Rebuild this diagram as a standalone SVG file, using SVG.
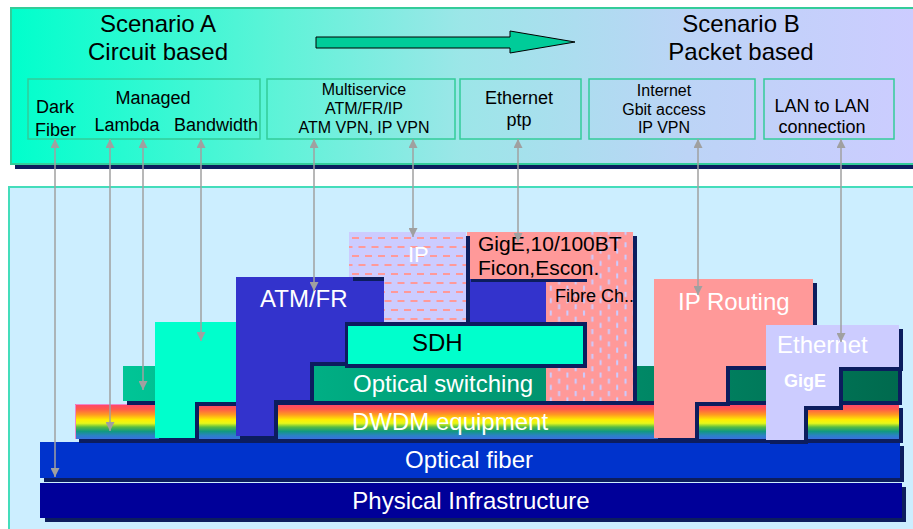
<svg xmlns="http://www.w3.org/2000/svg" width="913" height="529" viewBox="0 0 913 529">
<defs>
<linearGradient id="gTop" gradientUnits="userSpaceOnUse" x1="11" y1="0" x2="913" y2="0">
<stop offset="0" stop-color="#00ffcc"/><stop offset="0.3" stop-color="#5ff3d8"/><stop offset="0.5" stop-color="#9ce6e8"/><stop offset="0.75" stop-color="#bcd4f6"/><stop offset="1" stop-color="#ccccff"/>
</linearGradient>
<linearGradient id="gRain" x1="0" y1="0" x2="0" y2="1">
<stop offset="0" stop-color="#ff4470"/><stop offset="0.15" stop-color="#ff5a4a"/><stop offset="0.3" stop-color="#ff9922"/><stop offset="0.45" stop-color="#ffee00"/><stop offset="0.55" stop-color="#e6f71a"/><stop offset="0.66" stop-color="#55bb44"/><stop offset="0.78" stop-color="#119980"/><stop offset="0.9" stop-color="#2a82c4"/><stop offset="1" stop-color="#3a6fe0"/>
</linearGradient>
<linearGradient id="gOpt" gradientUnits="userSpaceOnUse" x1="123" y1="0" x2="898" y2="0">
<stop offset="0" stop-color="#00c596"/><stop offset="1" stop-color="#006a4e"/>
</linearGradient>
<pattern id="pIP" width="13" height="18" patternUnits="userSpaceOnUse">
<rect width="13" height="18" fill="#ccccff"/><rect x="1" y="3" width="7" height="2" fill="#ff9999"/><rect x="7.5" y="12" width="7" height="2" fill="#ff9999"/><rect x="-5.5" y="12" width="7" height="2" fill="#ff9999"/>
</pattern>
<pattern id="pFib" width="16.6" height="12.4" patternUnits="userSpaceOnUse">
<rect width="16.6" height="12.4" fill="#ff9999"/><rect x="2" y="0.5" width="2" height="5" fill="#ccccff"/><rect x="10.3" y="6.7" width="2" height="5" fill="#ccccff"/>
</pattern>
<marker id="ah" markerUnits="userSpaceOnUse" markerWidth="9" markerHeight="9" refX="9" refY="4.5" orient="auto-start-reverse">
<path d="M0,0 L9,4.5 L0,9 z" fill="#a0a0a0"/>
</marker>
<style>
text{font-family:"Liberation Sans",Arial,sans-serif;}
.sh{fill:#0c1d5e;}
.box{fill:none;stroke:#33cc99;stroke-width:1.5;}
.s24{font-size:24px;}
.s18{font-size:18px;}
.s16{font-size:16px;}
.c{text-anchor:middle;}
.w{fill:#ffffff;}
.k{fill:#000000;}
.con{stroke:#a0a0a0;stroke-width:1.5;fill:none;marker-start:url(#ah);marker-end:url(#ah);}
</style>
</defs>
<rect width="913" height="529" fill="#ffffff"/>

<g id="top-panel">
<rect class="sh" x="15" y="12" width="910" height="157"/>
<rect x="11" y="8" width="910" height="156" fill="url(#gTop)" stroke="#33cc99" stroke-width="2"/>
<text class="s24 c k" x="158" y="32">Scenario A</text>
<text class="s24 c k" x="158" y="60">Circuit based</text>
<text class="s24 c k" x="741" y="32">Scenario B</text>
<text class="s24 c k" x="741" y="60">Packet based</text>
<polygon points="316,37 510,37 510,31 575,42 510,53 510,48 316,48" fill="#00cc99" stroke="#000" stroke-width="1"/>
</g>

<g id="svc-circuit">
<rect class="box" x="28" y="79" width="232" height="60"/>
<text class="s18 k" x="36" y="113">Dark</text>
<text class="s18 k" x="35" y="136">Fiber</text>
<text class="s18 c k" x="153" y="104">Managed</text>
<text class="s18 c k" x="127" y="131">Lambda</text>
<text class="s18 c k" x="216" y="131">Bandwidth</text>
</g>
<g id="svc-multiservice">
<rect class="box" x="267" y="79" width="188" height="60"/>
<text class="s16 c k" x="364" y="95">Multiservice</text>
<text class="s16 c k" x="364" y="114">ATM/FR/IP</text>
<text class="s16 c k" x="364" y="133">ATM VPN, IP VPN</text>
</g>
<g id="svc-ethernet">
<rect class="box" x="460" y="79" width="121" height="60"/>
<text class="s18 c k" x="519" y="104">Ethernet</text>
<text class="s18 c k" x="519" y="126">ptp</text>
</g>
<g id="svc-internet">
<rect class="box" x="589" y="79" width="166" height="60"/>
<text class="s16 c k" x="664" y="96">Internet</text>
<text class="s16 c k" x="664" y="115">Gbit access</text>
<text class="s16 c k" x="664" y="133">IP VPN</text>
</g>
<g id="svc-lan">
<rect class="box" x="764" y="79" width="130" height="60"/>
<text class="s18 c k" x="822" y="112">LAN to LAN</text>
<text class="s18 c k" x="822" y="133">connection</text>
</g>

<g id="lower-panel">
<rect x="9" y="187" width="915" height="360" fill="#cceeff" stroke="#44ddbb" stroke-width="2"/>
</g>

<g id="physical">
<rect class="sh" x="45" y="487" width="861" height="35"/>
<rect x="40" y="483" width="862" height="35" fill="#000099"/>
<text class="s24 c w" x="471" y="509">Physical Infrastructure</text>
</g>
<g id="fiber">
<rect class="sh" x="44" y="446" width="860" height="36"/>
<rect x="40" y="442" width="860" height="36" fill="#0033cc"/>
<text class="s24 c w" x="469" y="468">Optical fiber</text>
</g>
<g id="dwdm">
<rect class="sh" x="79" y="408" width="824" height="35"/>
<rect x="75" y="404" width="824" height="35" fill="url(#gRain)"/>
<polyline points="75.5,439 75.5,404.5 160,404.5" fill="none" stroke="#ee88cc" stroke-width="1"/>
<text class="s24 w" x="352" y="430">DWDM equipment</text>
</g>
<g id="optical-switching">
<rect class="sh" x="127" y="370" width="775" height="35"/>
<rect x="123" y="366" width="775" height="35" fill="url(#gOpt)"/>
<text class="s24 w" x="353" y="392">Optical switching</text>
</g>
<g id="bandwidth-col">
<polygon class="sh" points="159,326 240,326 240,406 199,406 199,442 159,442"/>
<polygon points="155,322 236,322 236,402 195,402 195,438 155,438" fill="#00ffcc"/>
</g>
<g id="atm">
<polygon class="sh" points="240,281 550,281 550,326 349,326 349,366 314,366 314,404 278,404 278,440 240,440"/>
<polygon points="236,277 546,277 546,322 345,322 345,362 310,362 310,400 274,400 274,436 236,436" fill="#3333cc"/>
<text class="s24 w" x="260" y="307">ATM/FR</text>
</g>
<g id="fibre-ch">
<rect class="sh" x="550" y="236" width="87" height="169"/>
<rect x="546" y="232" width="87" height="169" fill="url(#pFib)"/>
<text class="s18 k" x="555" y="302">Fibre Ch..</text>
</g>
<g id="gige-box">
<rect x="467" y="232" width="120" height="47" fill="#ff9999"/>
<rect class="sh" x="471" y="279" width="116" height="3"/>
<text class="k" font-size="21" x="478" y="251">GigE,10/100BT</text>
<text class="k" font-size="21" x="478" y="275">Ficon,Escon.</text>
</g>
<g id="sdh">
<rect class="sh" x="345" y="322" width="242" height="46"/>
<rect x="348" y="326" width="235" height="38" fill="#00ffcc"/>
<text class="s24 k" x="412" y="351">SDH</text>
</g>
<g id="ip">
<polygon class="sh" points="353,236 470,236 470,326 388,326 388,281 353,281"/>
<polygon points="349,232 466,232 466,322 384,322 384,277 349,277" fill="url(#pIP)"/>
<text class="w" font-size="22" x="408" y="262">IP</text>
</g>
<g id="ip-routing">
<polygon class="sh" points="658,283 817,283 817,370 730,370 730,406 699,406 699,442 658,442"/>
<polygon points="654,279 813,279 813,366 726,366 726,402 695,402 695,438 654,438" fill="#ff9999"/>
<text class="s24 w" x="678" y="310">IP Routing</text>
</g>
<g id="ethernet">
<polygon class="sh" points="770,329 903,329 903,371 843,371 843,410 808,410 808,444 770,444"/>
<polygon points="766,325 899,325 899,367 839,367 839,406 804,406 804,440 766,440" fill="#ccccff"/>
<text class="s24 w" x="777" y="353">Ethernet</text>
<text class="s18 w" font-weight="bold" x="784" y="387">GigE</text>
</g>

<g id="connectors">
<line class="con" x1="55" y1="139" x2="55" y2="477"/>
<line class="con" x1="110" y1="139" x2="110" y2="431"/>
<line class="con" x1="143" y1="139" x2="143" y2="390"/>
<line class="con" x1="201" y1="139" x2="201" y2="341"/>
<line class="con" x1="314" y1="139" x2="314" y2="291"/>
<line class="con" x1="413" y1="139" x2="413" y2="237"/>
<line class="con" x1="518" y1="139" x2="518" y2="242"/>
<line class="con" x1="698" y1="139" x2="698" y2="295"/>
<line class="con" x1="841" y1="139" x2="841" y2="342"/>
</g>
</svg>
